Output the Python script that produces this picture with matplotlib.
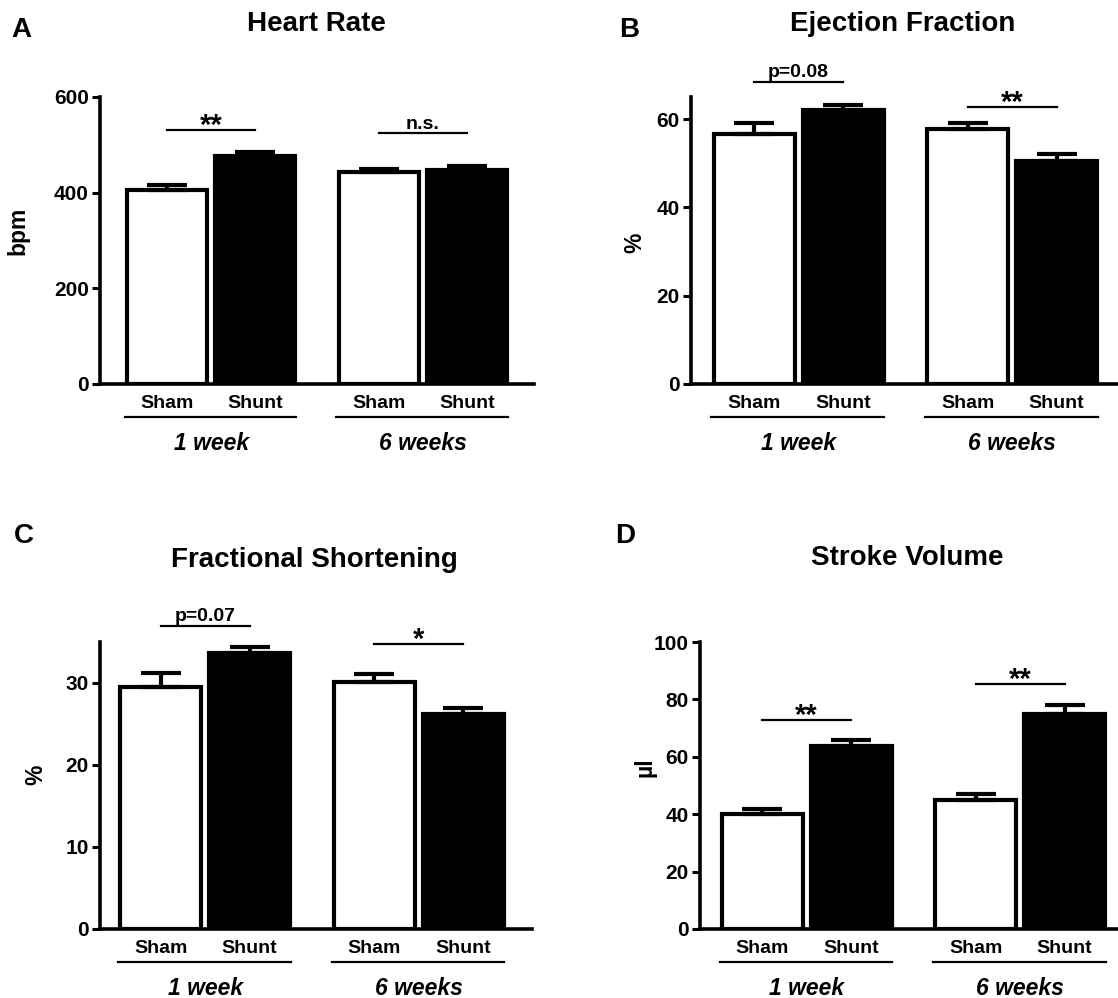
import matplotlib
matplotlib.use("Agg")
import matplotlib.pyplot as plt

plt.rcParams["font.family"] = ["Liberation Sans", "DejaVu Sans"]
plt.rcParams["font.weight"] = "bold"

W, H = 1118, 998

# --- data ---
groups = ["Sham", "Shunt", "Sham", "Shunt"]
periods = ["1 week", "6 weeks"]
positions = [0.0, 1.0, 2.4, 3.4]
bar_colors = ["white", "black", "white", "black"]

hr_mean = [406, 477, 443, 447]
hr_sem = [11, 8, 7, 8]
ef_mean = [56.6, 62.0, 57.7, 50.6]
ef_sem = [2.6, 1.2, 1.3, 1.5]
fs_mean = [29.5, 33.6, 30.1, 26.2]
fs_sem = [1.7, 0.8, 1.0, 0.8]
sv_mean = [39.9, 63.8, 45.0, 74.9]
sv_sem = [1.9, 2.1, 2.0, 3.3]

# significance: (label, bar index from, bar index to, height in data units)
hr_sig = [("**", 0, 1, 531), ("n.s.", 2, 3, 524)]
ef_sig = [("p=0.08", 0, 1, 68.5), ("**", 2, 3, 62.8)]
fs_sig = [("p=0.07", 0, 1, 37.0), ("*", 2, 3, 34.8)]
sv_sig = [("**", 0, 1, 72.8), ("**", 2, 3, 85.3)]


def px_axes(fig, left, top, right, bottom):
    return fig.add_axes([left / W, 1 - bottom / H, (right - left) / W, (bottom - top) / H])


def draw_panel(fig, box, xlim, means, sems, ylim, yticks, ylabel, ylabel_xy,
               title, title_xy, letter, letter_xy, sigs):
    ax = px_axes(fig, *box)
    ax_h = box[3] - box[1]

    ax.bar(positions, means, width=0.91, color=bar_colors, edgecolor="black",
           linewidth=3, zorder=2)
    ax.errorbar(positions, means, yerr=[[0] * 4, sems], fmt="none", ecolor="black",
                elinewidth=3, capsize=14.5, capthick=3, zorder=3)

    ax.set_xlim(*xlim)
    ax.set_ylim(*ylim)
    ax.set_yticks(yticks)
    ax.set_yticklabels([str(t) for t in yticks])
    ax.spines["top"].set_visible(False)
    ax.spines["right"].set_visible(False)
    for s in ("left", "bottom"):
        ax.spines[s].set_linewidth(2.6)
    ax.tick_params(axis="y", direction="out", length=6, width=2.2, labelsize=15, pad=2)
    ax.tick_params(axis="x", length=0, labelbottom=False)

    tr = ax.get_xaxis_transform()
    for x, g in zip(positions, groups):
        ax.text(x, -24 / ax_h, g, transform=tr, ha="center", va="baseline",
                fontsize=14, clip_on=False)
    centers = [(positions[0] + positions[1]) / 2, (positions[2] + positions[3]) / 2]
    for (x0, x1), xc, label in zip([(-0.48, 1.46), (1.92, 3.86)], centers, periods):
        ax.plot([x0, x1], [-33 / ax_h] * 2, transform=tr, color="black",
                lw=1.6, clip_on=False)
        ax.text(xc, -66 / ax_h, label, transform=tr, ha="center", va="baseline",
                fontsize=16.5, style="italic", clip_on=False)

    for label, i0, i1, y in sigs:
        x0, x1 = positions[i0], positions[i1]
        ax.plot([x0, x1], [y, y], color="black", lw=1.6, clip_on=False)
        if set(label) == {"*"}:
            ax.annotate(label, xy=((x0 + x1) / 2, y), xytext=(0, -2.8),
                        textcoords="offset points", ha="center", va="baseline",
                        fontsize=21, annotation_clip=False)
        else:
            ax.annotate(label, xy=((x0 + x1) / 2, y), xytext=(0, 3.0),
                        textcoords="offset points", ha="center", va="baseline",
                        fontsize=14, annotation_clip=False)

    fig.text(ylabel_xy[0] / W, 1 - ylabel_xy[1] / H, ylabel, rotation=90,
             ha="center", va="center", fontsize=16.5)
    fig.text(title_xy[0] / W, 1 - title_xy[1] / H, title, ha="center",
             va="baseline", fontsize=20)
    fig.text(letter_xy[0] / W, 1 - letter_xy[1] / H, letter, ha="center",
             va="baseline", fontsize=20)
    return ax


fig = plt.figure(figsize=(W / 100, H / 100), dpi=100)

draw_panel(fig, (100, 97, 534, 384), (-0.76, 4.16), hr_mean, hr_sem,
           (0, 600), [0, 200, 400, 600], "bpm", (18, 231),
           "Heart Rate", (316, 31), "A", (21, 37), hr_sig)
draw_panel(fig, (691, 97, 1118, 384), (-0.71, 4.09), ef_mean, ef_sem,
           (0, 65), [0, 20, 40, 60], "%", (635, 243),
           "Ejection Fraction", (903, 31), "B", (629, 37), ef_sig)
draw_panel(fig, (100, 642, 532, 929), (-0.68, 4.17), fs_mean, fs_sem,
           (0, 35), [0, 10, 20, 30], "%", (36, 775),
           "Fractional Shortening", (314, 567), "C", (24, 543), fs_sig)
draw_panel(fig, (700, 642, 1118, 929), (-0.70, 4.0), sv_mean, sv_sem,
           (0, 100), [0, 20, 40, 60, 80, 100], "µl", (645, 767),
           "Stroke Volume", (907, 565), "D", (625, 543), sv_sig)

fig.savefig("out.png", dpi=100)
